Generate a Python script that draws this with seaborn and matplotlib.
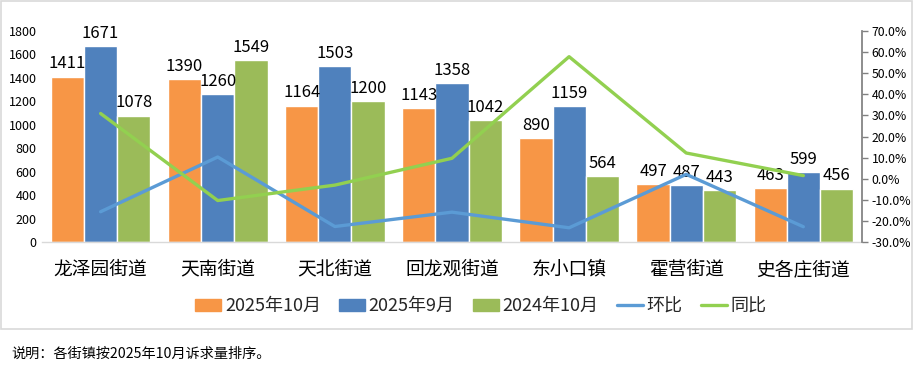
import numpy as np
import pandas as pd
import matplotlib
matplotlib.use("Agg")
import matplotlib.pyplot as plt
import seaborn as sns
from matplotlib.patches import Rectangle
from matplotlib.lines import Line2D
from matplotlib.ticker import FuncFormatter

sns.set_theme(style="white")
plt.rcParams['font.family'] = ['Noto Sans CJK SC', 'DejaVu Sans']

categories = ["龙泽园街道", "天南街道", "天北街道", "回龙观街道", "东小口镇", "霍营街道", "史各庄街道"]
series_names = ["2025年10月", "2025年9月", "2024年10月"]
oct_2025 = [1411, 1390, 1164, 1143, 890, 497, 463]
sep_2025 = [1671, 1260, 1503, 1358, 1159, 487, 599]
oct_2024 = [1078, 1549, 1200, 1042, 564, 443, 456]
huanbi = [-15.6, 10.3, -22.6, -15.8, -23.2, 2.1, -22.7]
tongbi = [30.9, -10.3, -3.0, 9.7, 57.8, 12.2, 1.5]
left_ticks = [0, 200, 400, 600, 800, 1000, 1200, 1400, 1600, 1800]
right_ticks = [-30, -20, -10, 0, 10, 20, 30, 40, 50, 60, 70]
note = "说明：各街镇按2025年10月诉求量排序。"

bar_colors = ["#F79646", "#4F81BD", "#9BBB59"]
hb_color = "#5B9BD5"
tb_color = "#92D050"

df = pd.DataFrame({
    "cat": categories * 3,
    "series": sum([[s] * len(categories) for s in series_names], []),
    "value": oct_2025 + sep_2025 + oct_2024,
})

fig = plt.figure(figsize=(9.14, 3.68), dpi=100)
ax = fig.add_axes([0.046, 0.342, 0.897, 0.574])

sns.barplot(data=df, x="cat", y="value", hue="series", hue_order=series_names,
            order=categories, palette=bar_colors, width=0.85, saturation=1,
            ax=ax, legend=False)
for cont in ax.containers:
    ax.bar_label(cont, fmt="%d", padding=3, fontsize=12, color="#000000")

ax.set_ylim(0, 1800)
ax.set_xlim(-0.5, len(categories) - 0.5)
ax.set_yticks(left_ticks)
ax.tick_params(axis='y', labelsize=9, length=0, pad=4, colors="#000000")
ax.tick_params(axis='x', labelsize=13.5, length=0, pad=12, colors="#000000")
ax.set_xlabel("")
ax.set_ylabel("")
for s in ["top", "right", "left"]:
    ax.spines[s].set_visible(False)
ax.spines["bottom"].set_color("#D9D9D9")
ax.spines["bottom"].set_linewidth(1)

ax2 = ax.twinx()
xpos = np.arange(len(categories))
sns.lineplot(x=xpos, y=huanbi, color=hb_color, linewidth=2.4, ax=ax2)
sns.lineplot(x=xpos, y=tongbi, color=tb_color, linewidth=2.4, ax=ax2)
ax2.set_ylim(-30, 70)
ax2.set_yticks(right_ticks)
ax2.yaxis.set_major_formatter(FuncFormatter(lambda v, p: f"{v:.1f}%"))
ax2.tick_params(axis='y', labelsize=8.8, length=4, width=1, pad=3, labelcolor="#000000", color="#808080")
for s in ["top", "left", "bottom"]:
    ax2.spines[s].set_visible(False)
ax2.spines["right"].set_color("#808080")
ax2.set_xlim(-0.5, len(categories) - 0.5)
ax2.grid(False)
ax.grid(False)

handles = [Rectangle((0, 0), 1, 1, color=c) for c in bar_colors] + [
    Line2D([0], [0], color=hb_color, lw=2.4), Line2D([0], [0], color=tb_color, lw=2.4)]
labels = series_names + ["环比", "同比"]
fig.legend(handles, labels, loc="center", bbox_to_anchor=(0.526, 0.168), ncol=5,
           frameon=False, fontsize=13, handlelength=1.45, handleheight=0.67,
           handletextpad=0.2, columnspacing=1.0)

fig.add_artist(Rectangle((0.001, 0.106), 0.997, 0.891, transform=fig.transFigure,
                         fill=False, edgecolor="#D9D9D9", linewidth=1.2))
fig.text(0.012, 0.038, note, fontsize=10.2, ha="left", va="center", color="#000000")

fig.savefig("out.png", dpi=100, facecolor="white")
